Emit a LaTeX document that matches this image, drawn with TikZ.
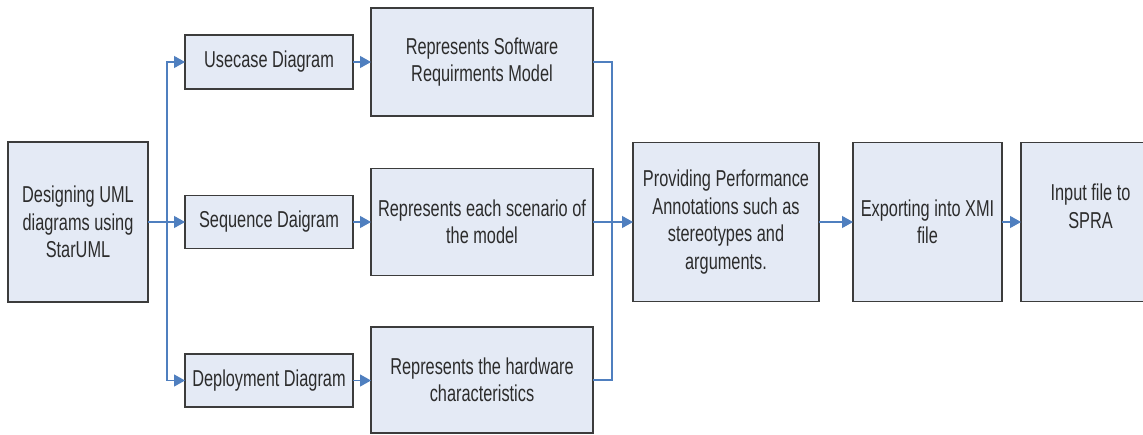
\documentclass[tikz,border=0pt]{standalone}
\usepackage{fontspec}
\setmainfont{Liberation Sans}[FakeStretch=0.71]
\usetikzlibrary{arrows.meta}
\definecolor{boxfill}{HTML}{E4EAF5}
\definecolor{boxline}{HTML}{3C3C3C}
\definecolor{flowblue}{HTML}{4F7FBF}
\definecolor{textgray}{HTML}{2C2C2C}
\tikzset{
  stage/.style={draw=boxline, line width=1.8pt, fill=boxfill, text=textgray,
    inner sep=0pt, outer sep=0pt, align=center,
    font=\fontsize{23}{27.5}\selectfont},
  link/.style={draw=flowblue, line width=1.2pt},
  flow/.style={link, -{Triangle[length=11pt,width=12pt]}},
}
\begin{document}
\begin{tikzpicture}[x=1pt,y=-1pt]
  \useasboundingbox (0,0) rectangle (1143,434);
  \clip (0,0) rectangle (1143,434);
  \fill[white] (0,0) rectangle (1143,434);

  % source and the three UML views
  \node[stage, minimum width=140pt, minimum height=160pt] (design) at (78,222)
    {Designing UML\\diagrams using\\StarUML};
  \node[stage, minimum width=168pt, minimum height=54pt] (usecase) at (269,62)
    {Usecase Diagram};
  \node[stage, minimum width=168pt, minimum height=53pt] (sequence) at (269,222)
    {Sequence Daigram};
  \node[stage, minimum width=168pt, minimum height=53pt] (deploy) at (269,380.5)
    {Deployment Diagram};

  % what each view represents
  \node[stage, minimum width=222pt, minimum height=108pt] (reqs) at (482,62)
    {Represents Software\\Requirments Model};
  \node[stage, minimum width=222pt, minimum height=107pt] (scen) at (482,222)
    {Represents each scenario of\\the model};
  \node[stage, minimum width=222pt, minimum height=106pt] (hw) at (482,380)
    {Represents the hardware\\characteristics};

  % processing chain
  \node[stage, minimum width=186pt, minimum height=159pt] (annot) at (726,222)
    {Providing Performance\\Annotations such as\\stereotypes and\\arguments.};
  \node[stage, minimum width=149pt, minimum height=159pt] (xmi) at (927.5,222)
    {Exporting into XMI\\file};
  \node[stage, minimum width=139pt, minimum height=159pt] (spra) at (1090.5,222)
    {Input file to\\SPRA\\[4pt]};

  % fan-out from the design step
  \coordinate (split) at (167,222);
  \draw[flow] (design.east) -- (sequence.west);
  \draw[flow] (split) |- (usecase.west);
  \draw[flow] (split) |- (deploy.west);

  \draw[flow] (usecase.east) -- (reqs.west);
  \draw[flow] (sequence.east) -- (scen.west);
  \draw[flow] (deploy.east) -- (hw.west |- deploy.east);

  % fan-in to the annotation step
  \coordinate (join) at (612,222);
  \draw[link] (reqs.east) -| (join);
  \draw[link] (hw.east) -| (join);
  \draw[flow] (scen.east) -- (annot.west);

  \draw[flow] (annot.east) -- (xmi.west);
  \draw[flow] (xmi.east) -- (spra.west);
\end{tikzpicture}
\end{document}
